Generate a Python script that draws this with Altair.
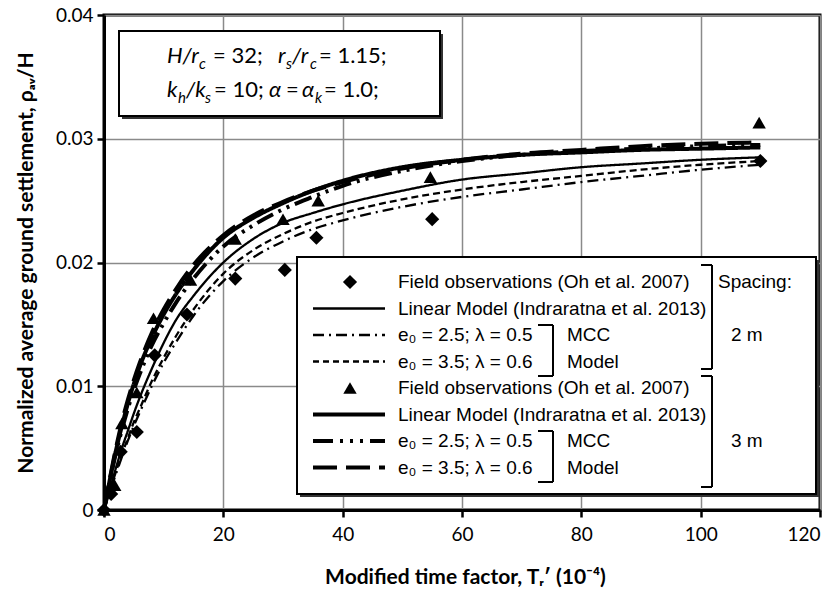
import altair as alt
import pandas as pd

# ---------------- data ----------------
T = [0, 1, 2, 3, 4, 5, 6, 8, 10, 12, 15, 20, 25, 30, 35, 40, 50, 60, 70, 80, 90, 100, 110]

lin_2m = [0, .0017, .0034, .0050, .0064, .0078, .0091, .0114, .0135, .0153, .0173, .0200, .0219, .0232, .0240, .0247, .0258, .0267, .0272, .0277, .0280, .0283, .0285]
mcc25_2m = [0, .0015, .0029, .0043, .0056, .0068, .0079, .0100, .0119, .0135, .0157, .0185, .0204, .0217, .0227, .0234, .0245, .0253, .0259, .0265, .0270, .0275, .0279]
mcc35_2m = [0, .0016, .0031, .0045, .0058, .0071, .0082, .0104, .0123, .0140, .0162, .0191, .0210, .0223, .0233, .0240, .0251, .0259, .0265, .0270, .0275, .0279, .0282]

lin_3m = [0, .0025, .0048, .0068, .0086, .0102, .0116, .0139, .0158, .0174, .0194, .0220, .0236, .0248, .0258, .0266, .0277, .0283, .0287, .0289, .0291, .0292, .0293]
mcc25_3m = [0, .0024, .0046, .0065, .0082, .0097, .0110, .0133, .0151, .0167, .0187, .0213, .0230, .0243, .0253, .0262, .0274, .0282, .0287, .0290, .0292, .0294, .0295]
mcc35_3m = [0, .0026, .0050, .0071, .0089, .0105, .0119, .0143, .0162, .0178, .0198, .0222, .0238, .0249, .0258, .0265, .0276, .0283, .0288, .0291, .0294, .0296, .0297]

obs2_x = [0, 1.2, 2.8, 5.5, 8.5, 13.9, 22, 30.3, 35.6, 55, 110]
obs2_y = [0, .0013, .0047, .0063, .0125, .0158, .0187, .0194, .0220, .0235, .0282]
obs3_x = [0, 1.8, 3, 5.5, 8.3, 14.5, 22, 30, 35.9, 54.7, 109.8]
obs3_y = [0, .0020, .0070, .0095, .0155, .0186, .0219, .0235, .0250, .0269, .0313]

x_ticks = [0, 20, 40, 60, 80, 100, 120]
y_ticks = [0, 0.01, 0.02, 0.03, 0.04]

legend_labels = [
    "Field observations (Oh et al. 2007)",
    "Linear Model (Indraratna et al. 2013)",
    "e\u2080 = 2.5; \u03bb = 0.5",
    "e\u2080 = 3.5; \u03bb = 0.6",
    "Field observations (Oh et al. 2007)",
    "Linear Model (Indraratna et al. 2013)",
    "e\u2080 = 2.5; \u03bb = 0.5",
    "e\u2080 = 3.5; \u03bb = 0.6",
]

# ---------------- layout constants ----------------
PL, PT, W, H = 104, 15, 716, 495
FONT_AX = "Lato"
FONT_LEG = "Liberation Sans, Arial"

def ax(px):
    return px - PL

def ay(py):
    return py - PT

xs = alt.Scale(domain=[0, 120], nice=False)
ys = alt.Scale(domain=[0, 0.04], nice=False)

one = pd.DataFrame({"k": [0]})

THIN, THICK = 2.3, 4.0
curve_styles = [
    (lin_2m, THIN, [1, 0]),
    (mcc25_2m, THIN, [11, 5, 2, 5]),
    (mcc35_2m, THIN, [7, 4]),
    (lin_3m, THICK, [1, 0]),
    (mcc25_3m, THICK, [18, 6, 3, 6, 3, 6]),
    (mcc35_3m, THICK, [24, 9]),
]

layers = []

for i, (vals, sw, dash) in enumerate(curve_styles):
    df = pd.DataFrame({"T": T, "v": vals})
    enc_x = alt.X("T:Q", scale=xs)
    enc_y = alt.Y("v:Q", scale=ys)
    if i == 0:
        enc_x = alt.X(
            "T:Q", scale=xs,
            axis=alt.Axis(values=x_ticks, title="Modified time factor, T\u1d63\u2032 (10\u207b\u2074)",
                          titleX=361, titleY=67, titleBaseline="middle", titleAlign="center"),
        )
        enc_y = alt.Y(
            "v:Q", scale=ys,
            axis=alt.Axis(values=y_ticks,
                          labelExpr="datum.value == 0 ? '0' : format(datum.value, '.2f')",
                          title="Normalized average ground settlement, \u03c1\u2090\u1d65/H",
                          titleX=-78, titleY=H / 2, titleAngle=270,
                          titleAlign="center", titleBaseline="middle"),
        )
    layers.append(
        alt.Chart(df).mark_line(color="black", strokeWidth=sw, strokeDash=dash,
                                interpolate="monotone", strokeCap="butt")
        .encode(x=enc_x, y=enc_y)
    )

df2 = pd.DataFrame({"T": obs2_x, "v": obs2_y})
df3 = pd.DataFrame({"T": obs3_x, "v": obs3_y})
layers.append(alt.Chart(df2).mark_point(shape="diamond", filled=True, color="black", size=200, opacity=1)
              .encode(x=alt.X("T:Q", scale=xs), y=alt.Y("v:Q", scale=ys)))
layers.append(alt.Chart(df3).mark_point(shape="triangle-up", filled=True, color="black", size=180, opacity=1)
              .encode(x=alt.X("T:Q", scale=xs), y=alt.Y("v:Q", scale=ys)))

# ---------------- annotation box ----------------
def box(x1, y1, x2, y2, sh=3):
    return [
        alt.Chart(one).mark_rect(color="#333333").encode(
            x=alt.value(ax(x1 + sh)), x2=alt.value(ax(x2 + sh)),
            y=alt.value(ay(y1 + sh)), y2=alt.value(ay(y2 + sh))),
        alt.Chart(one).mark_rect(fill="white", stroke="black", strokeWidth=2).encode(
            x=alt.value(ax(x1)), x2=alt.value(ax(x2)),
            y=alt.value(ay(y1)), y2=alt.value(ay(y2))),
    ]

layers += box(119, 31, 440, 116)

def txt(s, x, y, size=22, italic=False, font=FONT_AX, baseline="alphabetic", align="left"):
    return alt.Chart(one).mark_text(
        text=s, font=font, fontSize=size, fontStyle="italic" if italic else "normal",
        align=align, baseline=baseline, color="black",
    ).encode(x=alt.value(ax(x)), y=alt.value(ay(y)))

B1, B2 = 63, 97
SUB = 15
annot = [
    ("H/r", 167, B1, 22, True), ("c", 199, B1 + 6, SUB, True), ("= 32;", 213, B1, 22, False),
    ("r", 278, B1, 22, True), ("s", 286, B1 + 6, SUB, True), ("/r", 292, B1, 22, True),
    ("c", 310, B1 + 6, SUB, True), ("= 1.15;", 319, B1, 22, False),
    ("k", 167, B2, 22, True), ("h", 178, B2 + 6, SUB, True), ("/k", 186, B2, 22, True),
    ("s", 205, B2 + 6, SUB, True), ("= 10;", 214, B2, 22, False),
    ("\u03b1", 269, B2, 22, True), ("=", 286, B2, 22, False), ("\u03b1", 302, B2, 22, True),
    ("k", 315, B2 + 6, SUB, True), ("= 1.0;", 324, B2, 22, False),
]
for s, x, y, sz, it in annot:
    layers.append(txt(s, x, y, sz, it))

# ---------------- legend ----------------
layers += box(297, 257, 816, 494)
rows = [282, 308.5, 335, 361.5, 388, 414.5, 441, 467.5]
LX1, LX2, MX, TX = 313, 385, 350, 398
leg_lines = {1: (THIN, [1, 0]), 2: (THIN, [11, 5, 2, 5]), 3: (THIN, [6, 4]),
             5: (THICK, [1, 0]), 6: (THICK, [20, 7, 3, 7, 3, 7, 3, 7]), 7: (THICK, [24, 9])}
for i, ry in enumerate(rows):
    layers.append(txt(legend_labels[i], TX, ry, 19, False, FONT_LEG, "middle"))
    if i in leg_lines:
        sw, dash = leg_lines[i]
        layers.append(alt.Chart(one).mark_rule(color="black", strokeWidth=sw, strokeDash=dash, strokeCap="butt")
                      .encode(x=alt.value(ax(LX1)), x2=alt.value(ax(LX2)), y=alt.value(ay(ry)), y2=alt.value(ay(ry))))
layers.append(alt.Chart(one).mark_point(shape="diamond", filled=True, color="black", size=200, opacity=1)
              .encode(x=alt.value(ax(MX)), y=alt.value(ay(rows[0]))))
layers.append(alt.Chart(one).mark_point(shape="triangle-up", filled=True, color="black", size=180, opacity=1)
              .encode(x=alt.value(ax(MX)), y=alt.value(ay(rows[4]))))

def bracket(x, y1, y2, left):
    segs = [(x, y1, x, y2), (left, y1, x, y1), (left, y2, x, y2)]
    out = []
    for a, b, c, d in segs:
        out.append(alt.Chart(one).mark_rule(color="black", strokeWidth=2)
                   .encode(x=alt.value(ax(a)), x2=alt.value(ax(c)), y=alt.value(ay(b)), y2=alt.value(ay(d))))
    return out

layers += bracket(553, 325, 376, 538)
layers += bracket(553, 431, 482, 538)
layers += bracket(712, 265, 369, 701)
layers += bracket(712, 376, 487, 701)
layers.append(txt("MCC", 567, rows[2], 19, False, FONT_LEG, "middle"))
layers.append(txt("Model", 567, rows[3], 19, False, FONT_LEG, "middle"))
layers.append(txt("MCC", 567, rows[6], 19, False, FONT_LEG, "middle"))
layers.append(txt("Model", 567, rows[7], 19, False, FONT_LEG, "middle"))
layers.append(txt("Spacing:", 718, rows[0], 19, False, FONT_LEG, "middle"))
layers.append(txt("2 m", 731, rows[2], 19, False, FONT_LEG, "middle"))
layers.append(txt("3 m", 731, rows[6], 19, False, FONT_LEG, "middle"))

chart = (
    alt.layer(*layers)
    .properties(width=W, height=H, autosize=alt.AutoSizeParams(type="none"),
                padding={"left": PL, "top": PT, "right": 838 - PL - W, "bottom": 592 - PT - H})
    .configure_view(stroke="black", strokeWidth=3)
    .configure_axis(
        domainColor="black", domainWidth=3, tickColor="black", tickWidth=2.5, tickSize=7,
        grid=True, gridColor="#8a8a8a", gridWidth=1.5,
        labelFont=FONT_AX, labelFontSize=19, labelColor="black",
        titleFont=FONT_AX, titleFontSize=21, titleFontWeight="bold", titleColor="black",
    )
    .configure_axisX(labelPadding=8)
    .configure_axisY(labelPadding=4)
)

chart.save("out.html", embed_options={"renderer": "svg", "actions": False})
